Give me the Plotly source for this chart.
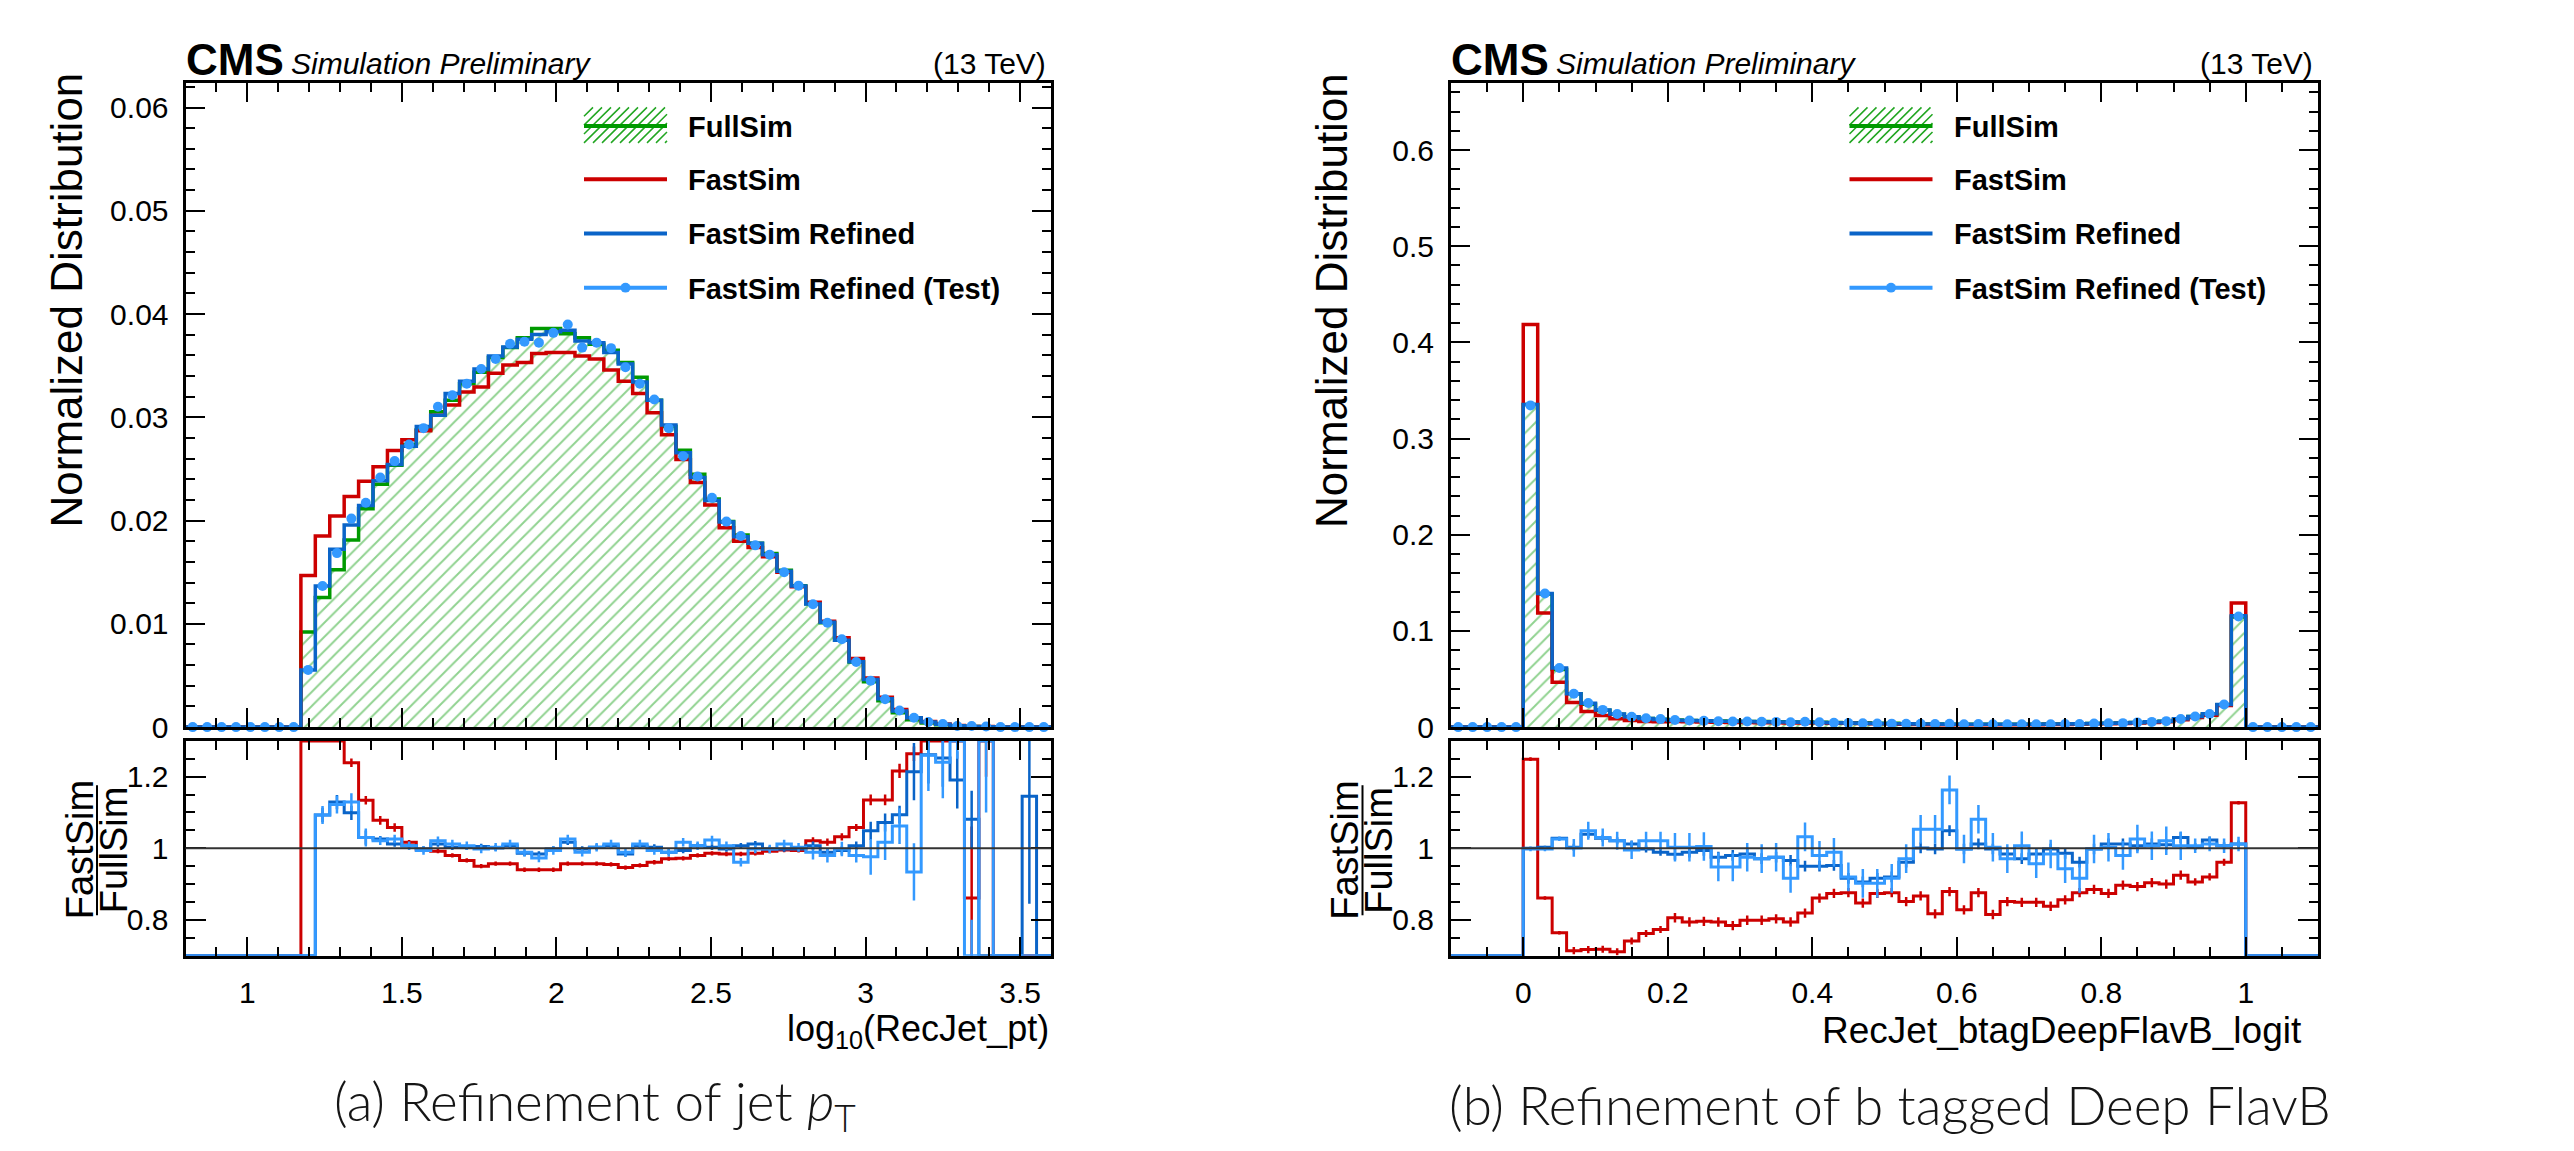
import numpy as np
import plotly.graph_objects as go

W, H = 2574, 1151
FONT = "Liberation Sans, Arial, Helvetica, sans-serif"

# ----------------------------- DATA -----------------------------
# left: log10(RecJet_pt), 60 bins in [0.8, 3.6]
pt_range = (0.8, 3.6)
pt_nbins = 60
pt_fullsim = [0]*8 + [
    0.0092, 0.01255, 0.01525, 0.01812, 0.02115, 0.02353, 0.02535, 0.02736, 0.02879, 0.03054,
    0.03166, 0.03325, 0.03436, 0.0358, 0.03675, 0.03771, 0.0386, 0.0386, 0.03809, 0.03771,
    0.03707, 0.0365, 0.03532, 0.03389, 0.03166, 0.0291, 0.02682, 0.02449, 0.0221, 0.0199,
    0.0186, 0.0178, 0.0168, 0.0152, 0.0137, 0.01195, 0.0101, 0.0084, 0.0063, 0.0044,
    0.00255, 0.0014, 0.0007, 0.0004, 0.00022, 0.00012, 0.00007, 0.00004, 0.00002, 0.00001,
    0.000005, 0.000003]
pt_fastsim = [0]*8 + [
    0.01468, 0.0185, 0.02045, 0.02233, 0.02382, 0.02522, 0.02678, 0.02783, 0.0287, 0.0302,
    0.0312, 0.03245, 0.03293, 0.03427, 0.03506, 0.03532, 0.03618, 0.03627, 0.03627, 0.03595,
    0.03564, 0.03459, 0.0335, 0.0323, 0.03045, 0.02831, 0.02592, 0.0237, 0.0215, 0.0193,
    0.018, 0.0174, 0.0165, 0.015, 0.0136, 0.0121, 0.01025, 0.00865, 0.00665, 0.00475,
    0.0029, 0.0017, 0.0009, 0.00055, 0.0003, 0.00016, 0.00006, 0.00005, 0, 0,
    0, 0]
pt_refined = [0]*8 + [
    0.00554, 0.01366, 0.01723, 0.01956, 0.02147, 0.02386, 0.02544, 0.0272, 0.0291, 0.0302,
    0.0323, 0.0335, 0.03468, 0.03595, 0.03681, 0.03755, 0.03802, 0.03828, 0.03844, 0.03739,
    0.03723, 0.03627, 0.03516, 0.03341, 0.03166, 0.02926, 0.02656, 0.02417, 0.02194, 0.01987,
    0.01844, 0.0178, 0.01669, 0.0151, 0.01366, 0.01191, 0.01016, 0.00841, 0.00634, 0.0046,
    0.00275, 0.00155, 0.0009, 0.0005, 0.00027, 0.00014, 0.00007, 0.00003, 0.00001, 0.00001,
    0.00001, 0.000005]
pt_test = [0]*8 + [
    0.00554, 0.01366, 0.01685, 0.02019, 0.02172, 0.02417, 0.02576, 0.02736, 0.02895, 0.03102,
    0.03213, 0.03325, 0.03468, 0.03564, 0.03713, 0.03732, 0.03723, 0.03818, 0.03898, 0.03675,
    0.03723, 0.0367, 0.03484, 0.03325, 0.03172, 0.02895, 0.02624, 0.02427, 0.0222, 0.0199,
    0.0185, 0.0176, 0.0167, 0.015, 0.0137, 0.0119, 0.0101, 0.0085, 0.0063, 0.0045,
    0.0027, 0.0016, 0.0009, 0.0005, 0.0003, 0.0001, 0.0001, 0.00005, 0, 0,
    0, 0]
pt_ratio_fastsim = [0]*8 + [
    1.60, 1.47, 1.34, 1.239, 1.134, 1.078, 1.058, 1.017, 0.995, 0.992,
    0.98, 0.966, 0.95, 0.957, 0.957, 0.94, 0.94, 0.94, 0.957, 0.957,
    0.957, 0.955, 0.946, 0.952, 0.961, 0.971, 0.972, 0.98, 0.986, 0.984,
    0.984, 0.986, 0.992, 0.995, 0.994, 1.021, 1.017, 1.032, 1.058, 1.135,
    1.135, 1.216, 1.264, 1.35, 1.40, 1.45, 0.861, 1.50, 0, 0,
    0, 0]
pt_ratio_refined = [0]*8 + [
    0.60, 1.093, 1.129, 1.099, 1.03, 1.026, 1.012, 1.007, 0.998, 1.012,
    1.003, 1.003, 1.005, 1.001, 1.007, 0.986, 0.984, 0.998, 1.017, 0.998,
    1.003, 1.007, 0.984, 1.007, 1.003, 0.989, 0.994, 1.007, 1.003, 0.998,
    1.007, 1.012, 0.998, 0.998, 0.998, 1.007, 0.989, 0.994, 1.007, 1.049,
    1.072, 1.094, 1.214, 1.261, 1.252, 1.191, 1.081, 0.3, 0.2, 0,
    1.145, 0]
pt_ratio_test = [0]*8 + [
    0.60, 1.093, 1.122, 1.129, 1.03, 1.021, 1.026, 1.007, 0.994, 1.021,
    1.012, 1.007, 0.998, 1.003, 1.012, 0.989, 0.973, 0.994, 1.026, 0.989,
    1.003, 1.012, 0.989, 1.012, 0.994, 0.989, 1.017, 1.007, 1.023, 1.007,
    0.961, 0.998, 0.998, 1.012, 1.003, 0.989, 0.98, 0.998, 0.98, 0.976,
    1.017, 1.062, 0.934, 1.26, 1.24, 1.35, 0.5, 1.4, 0, 0,
    0, 0]
pt_err_fastsim = [0]*8 + [0.03]*3 + [0.012]*4 + [0.006]*28 + [0.01]*4 + [0.015]*2 + [0.02]*2 + [0.05]*3 + [0.2, 0.3] + [0]*4
pt_err_refined = [0]*8 + [0.02]*5 + [0.008]*30 + [0.012]*4 + [0.025]*3 + [0.08]*5 + [0]*3 + [0.3, 0]
pt_err_test = [0]*8 + [0.025]*5 + [0.012]*30 + [0.02]*4 + [0.05]*3 + [0.08] + [0.1]*3 + [0.3, 0.3] + [0]*4

# right: RecJet_btagDeepFlavB_logit, 60 bins in [-0.1, 1.1]
btag_range = (-0.1, 1.1)
btag_nbins = 60
btag_fullsim = [0]*5 + [
    0.3355, 0.1384, 0.0598, 0.0347, 0.0238, 0.0174, 0.0134, 0.0107, 0.0090, 0.0081,
    0.0073, 0.0069, 0.0065, 0.0064, 0.0061, 0.0059, 0.0058, 0.0055, 0.0054, 0.0053,
    0.0051, 0.0047, 0.0046, 0.0044, 0.0041, 0.0039, 0.0035, 0.0032, 0.0031, 0.0029,
    0.0029, 0.0029, 0.0029, 0.0029, 0.0030, 0.0030, 0.0031, 0.0033, 0.0036, 0.0038,
    0.0040, 0.0042, 0.0048, 0.0054, 0.0061, 0.0083, 0.0110, 0.0135, 0.0233, 0.1145] + [0]*5
btag_fastsim = [0]*5 + [
    0.4187, 0.1186, 0.0466, 0.0255, 0.0163, 0.0120, 0.0086, 0.0068, 0.0059, 0.0055,
    0.0057, 0.0055, 0.0052, 0.0051, 0.0048, 0.0047, 0.0046, 0.0044, 0.0043, 0.0043,
    0.0044, 0.0041, 0.0040, 0.0037, 0.0036, 0.0034, 0.0030, 0.0028, 0.0025, 0.0025,
    0.0024, 0.0025, 0.0024, 0.0025, 0.0025, 0.0025, 0.0026, 0.0028, 0.0032, 0.0034,
    0.0035, 0.0038, 0.0043, 0.0049, 0.0055, 0.0077, 0.0100, 0.0124, 0.0224, 0.1290] + [0]*5
btag_refined = [0]*5 + [
    0.3355, 0.1388, 0.0614, 0.0348, 0.0247, 0.0179, 0.0137, 0.0108, 0.0090, 0.0080,
    0.0072, 0.0068, 0.0065, 0.0062, 0.0060, 0.0058, 0.0056, 0.0054, 0.0052, 0.0050,
    0.0048, 0.0045, 0.0042, 0.0040, 0.0038, 0.0036, 0.0034, 0.0032, 0.0031, 0.0030,
    0.0029, 0.0029, 0.0029, 0.0029, 0.0029, 0.0030, 0.0031, 0.0033, 0.0035, 0.0038,
    0.0040, 0.0043, 0.0048, 0.0055, 0.0062, 0.0086, 0.0111, 0.0138, 0.0235, 0.1159] + [0]*5
btag_test = [0]*5 + [
    0.3345, 0.1390, 0.0614, 0.0346, 0.0250, 0.0179, 0.0137, 0.0107, 0.0092, 0.0083,
    0.0073, 0.0069, 0.0065, 0.0061, 0.0058, 0.0058, 0.0056, 0.0054, 0.0050, 0.0055,
    0.0050, 0.0046, 0.0042, 0.0040, 0.0037, 0.0036, 0.0034, 0.0034, 0.0033, 0.0034,
    0.0029, 0.0031, 0.0029, 0.0029, 0.0030, 0.0029, 0.0030, 0.0031, 0.0033, 0.0038,
    0.0040, 0.0041, 0.0049, 0.0054, 0.0062, 0.0084, 0.0111, 0.0136, 0.0235, 0.1150] + [0]*5
btag_ratio_fastsim = [0]*5 + [
    1.249, 0.861, 0.764, 0.714, 0.717, 0.718, 0.711, 0.741, 0.762, 0.773,
    0.806, 0.794, 0.796, 0.794, 0.784, 0.799, 0.799, 0.803, 0.794, 0.819,
    0.861, 0.874, 0.876, 0.847, 0.874, 0.876, 0.851, 0.867, 0.817, 0.879,
    0.828, 0.876, 0.815, 0.851, 0.849, 0.849, 0.838, 0.856, 0.876, 0.885,
    0.874, 0.897, 0.893, 0.904, 0.900, 0.925, 0.906, 0.920, 0.961, 1.127] + [0]*5
btag_ratio_refined = [0]*5 + [
    1.0, 1.003, 1.028, 1.003, 1.039, 1.028, 1.021, 1.012, 0.998, 0.989,
    0.983, 0.989, 0.994, 0.975, 0.98, 0.984, 0.971, 0.975, 0.966, 0.95,
    0.95, 0.952, 0.916, 0.906, 0.916, 0.92, 0.961, 1.001, 0.998, 1.049,
    0.998, 1.012, 0.998, 0.984, 0.971, 0.984, 0.998, 0.986, 0.961, 0.998,
    1.012, 1.012, 1.007, 1.012, 1.01, 1.03, 1.005, 1.023, 1.007, 1.012] + [0]*5
btag_ratio_test = [0]*5 + [
    0.998, 0.998, 1.026, 1.001, 1.049, 1.030, 1.021, 0.995, 1.021, 1.021,
    1.003, 1.003, 1.005, 0.948, 0.948, 0.975, 0.971, 0.975, 0.916, 1.032,
    0.980, 0.989, 0.920, 0.902, 0.902, 0.916, 0.971, 1.053, 1.053, 1.163,
    0.998, 1.081, 1.003, 0.971, 1.007, 0.957, 0.984, 0.943, 0.916, 0.998,
    1.003, 0.980, 1.026, 1.007, 1.021, 1.007, 1.007, 1.012, 1.007, 1.012] + [0]*5
btag_err_fastsim = [0]*5 + [0.005]*3 + [0.01]*7 + [0.013]*36 + [0.01]*3 + [0.005] + [0]*5
btag_err_refined = [0]*5 + [0.004]*3 + [0.01]*7 + [0.015]*36 + [0.01]*4 + [0]*5
btag_err_test = [0]*5 + [0.006]*3 + [0.025]*7 + [0.04]*36 + [0.02]*4 + [0]*5

legend_labels = ["FullSim", "FastSim", "FastSim Refined", "FastSim Refined (Test)"]
captions = ["(a) Refinement of jet <i>p</i><sub>T</sub>", "(b) Refinement of b tagged Deep FlavB"]
xtitles = ["log<sub>10</sub>(RecJet_pt)", "RecJet_btagDeepFlavB_logit"]

# ----------------------------- STYLE -----------------------------
C_GREEN = "#009a00"
C_HATCH = "#22a622"
C_RED = "#cc0000"
C_BLUE = "#0a64c8"
C_LBLUE = "#3399ff"
RATIO_RANGE = (0.7, 1.3)

def px(x):
    return x / W

def py(y):
    return 1 - y / H

PANELS = [
    dict(x0=185.5, x1=1051.0),
    dict(x0=1451.0, x1=2318.0),
]
MAIN_Y = (84, 738)
RATIO_Y = (752, 970)

fig = go.Figure()

def step(edges, vals):
    return list(edges), list(vals) + [vals[-1]]

def add_panel(idx, rng, nb, full, fast, refd, test, r_fast, r_ref, r_test, e_fast, e_ref, e_test):
    edges = np.linspace(rng[0], rng[1], nb + 1)
    centers = 0.5 * (edges[:-1] + edges[1:])
    xm = "x" if idx == 0 else "x3"
    ym = "y" if idx == 0 else "y3"
    xr = "x2" if idx == 0 else "x4"
    yr = "y2" if idx == 0 else "y4"

    x, y = step(edges, full)
    fig.add_trace(go.Scatter(x=x, y=y, mode="lines", line=dict(color=C_GREEN, width=3.5, shape="hv"),
                             fill="tozeroy", fillcolor="rgba(0,0,0,0)",
                             fillpattern=dict(shape="/", fgcolor=C_HATCH, bgcolor="rgba(255,255,255,0)",
                                              size=10, solidity=0.2, fillmode="overlay"),
                             xaxis=xm, yaxis=ym, showlegend=False, hoverinfo="skip"))
    for vals, col in ((fast, C_RED), (refd, C_BLUE)):
        x, y = step(edges, vals)
        fig.add_trace(go.Scatter(x=x, y=y, mode="lines", line=dict(color=col, width=3.5, shape="hv"),
                                 xaxis=xm, yaxis=ym, showlegend=False, hoverinfo="skip"))
    fig.add_trace(go.Scatter(x=centers, y=test, mode="markers",
                             marker=dict(color=C_LBLUE, size=10, line=dict(width=0)),
                             xaxis=xm, yaxis=ym, showlegend=False, hoverinfo="skip", cliponaxis=False))

    for vals, errs, col in ((r_fast, e_fast, C_RED), (r_ref, e_ref, C_BLUE), (r_test, e_test, C_LBLUE)):
        x, y = step(edges, vals)
        yc = np.clip(np.array(y, dtype=float), RATIO_RANGE[0], RATIO_RANGE[1])
        fig.add_trace(go.Scatter(x=x, y=yc, mode="lines", line=dict(color=col, width=3, shape="hv"),
                                 xaxis=xr, yaxis=yr, showlegend=False, hoverinfo="skip"))
        v = np.array(vals, dtype=float)
        e = np.array(errs, dtype=float)
        m = e > 0
        fig.add_trace(go.Scatter(x=centers[m], y=v[m], mode="markers",
                                 marker=dict(color=col, size=1),
                                 error_y=dict(type="data", array=e[m], width=0, thickness=2.5, color=col),
                                 xaxis=xr, yaxis=yr, showlegend=False, hoverinfo="skip"))

add_panel(0, pt_range, pt_nbins, pt_fullsim, pt_fastsim, pt_refined, pt_test,
          pt_ratio_fastsim, pt_ratio_refined, pt_ratio_test, pt_err_fastsim, pt_err_refined, pt_err_test)
add_panel(1, btag_range, btag_nbins, btag_fullsim, btag_fastsim, btag_refined, btag_test,
          btag_ratio_fastsim, btag_ratio_refined, btag_ratio_test, btag_err_fastsim, btag_err_refined, btag_err_test)

def axis(domain, rng, dtick, minor_dtick, anchor, labels=True, tick0=0):
    return dict(domain=domain, range=list(rng), anchor=anchor, dtick=dtick, tick0=tick0,
                showline=True, linewidth=3, linecolor="black", mirror="allticks",
                ticks="inside", ticklen=19, tickwidth=2, tickcolor="black",
                minor=dict(ticks="inside", ticklen=9, tickwidth=2, tickcolor="black", dtick=minor_dtick,
                           showgrid=False),
                showgrid=False, zeroline=False, showticklabels=labels,
                tickfont=dict(family=FONT, size=30, color="black"), ticklabelstandoff=8)

mdom = [py(MAIN_Y[1]), py(MAIN_Y[0])]
rdom = [py(RATIO_Y[1]), py(RATIO_Y[0])]
L = [px(PANELS[0]["x0"]), px(PANELS[0]["x1"])]
R = [px(PANELS[1]["x0"]), px(PANELS[1]["x1"])]

fig.update_layout(
    xaxis=axis(L, pt_range, 0.5, 0.1, "y", labels=False),
    yaxis=axis(mdom, (0, 0.0624), 0.01, 0.002, "x"),
    xaxis2=axis(L, pt_range, 0.5, 0.1, "y2"),
    yaxis2=axis(rdom, RATIO_RANGE, 0.2, 0.05, "x2", tick0=0.8),
    xaxis3=axis(R, btag_range, 0.2, 0.05, "y3", labels=False),
    yaxis3=axis(mdom, (0, 0.67), 0.1, 0.02, "x3"),
    xaxis4=axis(R, btag_range, 0.2, 0.05, "y4"),
    yaxis4=axis(rdom, RATIO_RANGE, 0.2, 0.05, "x4", tick0=0.8),
)
for k in ("yaxis2", "yaxis4"):
    fig.layout[k].tickvals = [0.8, 1.0, 1.2]
    fig.layout[k].ticktext = ["0.8", "1", "1.2"]
    fig.layout[k].ticklen = 20

shapes = []
annotations = []

def ann(text, x, y, size, xanchor="center", yanchor="middle", angle=0, family=FONT, color="black", weight=None):
    f = dict(family=family, size=size, color=color)
    if weight is not None:
        f["weight"] = weight
    annotations.append(dict(text=text, x=px(x), y=py(y), xref="paper", yref="paper",
                            xanchor=xanchor, yanchor=yanchor, showarrow=False, textangle=angle,
                            font=f))

for i, P in enumerate(PANELS):
    dx = P["x0"] - PANELS[0]["x0"]
    xr = "x2" if i == 0 else "x4"
    yr = "y2" if i == 0 else "y4"
    shapes.append(dict(type="line", xref=f"{xr} domain", yref=yr, x0=0, x1=1, y0=1, y1=1,
                       line=dict(color="#333333", width=2), layer="above"))
    # header
    ann("<b>CMS</b>", P["x0"] - 2, 60, 44, xanchor="left")
    ann("<i>Simulation Preliminary</i>", P["x0"] + 103, 64, 30, xanchor="left")
    ann("(13 TeV)", P["x1"] - 3, 64, 30, xanchor="right")
    # y titles
    ann("Normalized Distribution", 66 + dx, 305, 44, angle=-90)
    ann("FastSim", 80 + dx, 863, 38, angle=-90)
    ann("FullSim", 114 + dx, 863, 38, angle=-90)
    shapes.append(dict(type="line", xref="paper", yref="paper", x0=px(97 + dx), x1=px(97 + dx),
                       y0=py(797), y1=py(929), line=dict(color="black", width=2)))
    # x titles
    if i == 0:
        ann(xtitles[0], P["x1"], 1046, 36, xanchor="right")
    else:
        ann(xtitles[1], P["x1"] - 14, 1046, 37, xanchor="right")
    # captions
    cx = 595 if i == 0 else 1890
    ann(captions[i], cx, 1121, 53, family="Lato, Open Sans, sans-serif", color="#151515", weight=300)

    # manual legend
    sx0, sx1 = 584 + dx, 667 + dx
    rows = [128, 182, 237, 292]
    bx0, bx1, by0, by1 = sx0, sx1, 109, 145
    hgt = by1 - by0
    path = ""
    c = -hgt
    while c < (bx1 - bx0):
        xa = max(bx0, bx0 + c)
        xb = min(bx1, bx0 + c + hgt)
        if xa < xb:
            ya = by1 - (xa - (bx0 + c))
            yb = by1 - (xb - (bx0 + c))
            path += f"M{px(xa):.5f},{py(ya):.5f} L{px(xb):.5f},{py(yb):.5f} "
        c += 9
    shapes.append(dict(type="path", xref="paper", yref="paper", path=path,
                       line=dict(color=C_HATCH, width=1.5)))
    for r, col in zip(rows, (C_GREEN, C_RED, C_BLUE, C_LBLUE)):
        shapes.append(dict(type="line", xref="paper", yref="paper", x0=px(sx0), x1=px(sx1),
                           y0=py(r), y1=py(r), line=dict(color=col, width=4)))
    cxm = 0.5 * (sx0 + sx1)
    shapes.append(dict(type="circle", xref="paper", yref="paper", x0=px(cxm - 5), x1=px(cxm + 5),
                       y0=py(rows[3] + 5), y1=py(rows[3] - 5), fillcolor=C_LBLUE, line=dict(width=0)))
    for r, lab in zip(rows, legend_labels):
        ann(f"<b>{lab}</b>", 686 + dx, r + 1, 29, xanchor="left")

fig.update_layout(shapes=shapes, annotations=annotations,
                  width=W, height=H, autosize=False,
                  margin=dict(l=0, r=0, t=0, b=0),
                  paper_bgcolor="white", plot_bgcolor="white",
                  showlegend=False)

fig.write_html("out.html", include_plotlyjs=True, config={"displayModeBar": False},
               post_script="document.body.style.margin='0';document.body.style.overflow='hidden';")
